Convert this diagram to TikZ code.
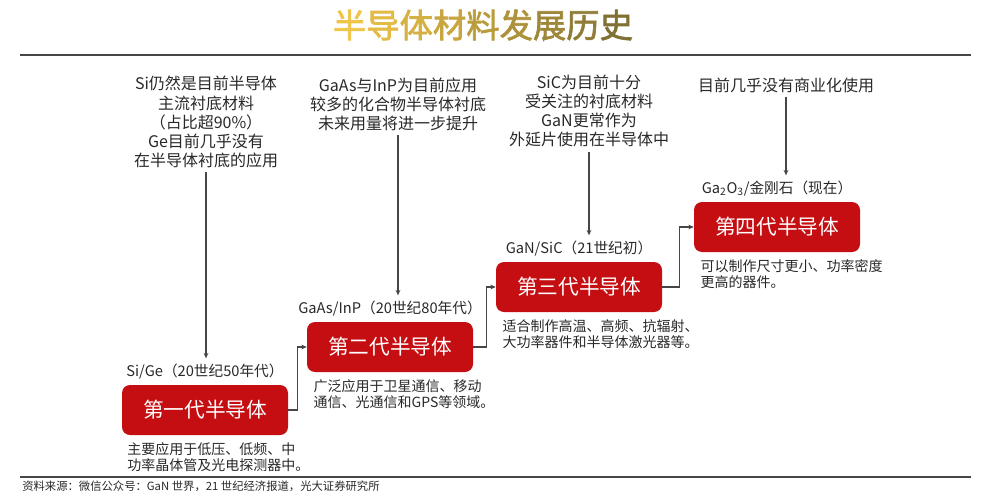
\documentclass[tikz,border=0pt]{standalone}
\usepackage{fontspec}
\setmainfont{Noto Sans CJK SC}
\newfontfamily\titlefont[FakeBold=2]{Noto Sans CJK SC}
\usepackage{xcolor}
\usetikzlibrary{arrows.meta,positioning}
\definecolor{genRed}{RGB}{196,14,18}
\definecolor{lineGray}{RGB}{70,70,70}
\definecolor{textGray}{RGB}{40,40,40}
\definecolor{titleLight}{RGB}{240,196,70}
\definecolor{titleDark}{RGB}{128,112,52}
\tikzset{
  gen/.style={fill=genRed, rounded corners=6pt, text=white, minimum width=124.5pt, minimum height=37.5pt, font=\fontsize{15.5}{18}\selectfont},
  era/.style={font=\fontsize{11}{13}\selectfont, inner sep=1pt, text=textGray},
  desc/.style={align=left, font=\fontsize{10.5}{12}\selectfont, inner sep=0pt, text=textGray},
  note/.style={align=center, font=\fontsize{12}{14.3}\selectfont, text=textGray},
  arrow/.style={-{Stealth[length=4pt,width=3.5pt]}, line width=0.8pt, draw=lineGray},
  rule/.style={line width=1.5pt, draw=lineGray}
}

\begin{document}
\begin{tikzpicture}[x=0.75pt,y=-0.75pt]
  \useasboundingbox (0,0) rectangle (1004,500);

  % Title and rules
  \node[font=\titlefont\fontsize{25}{28}\selectfont] (title) at (483,25) {%
    \textcolor{titleLight}{半}\textcolor{titleDark!12!titleLight}{导}\textcolor{titleDark!24!titleLight}{体}%
    \textcolor{titleDark!36!titleLight}{材}\textcolor{titleDark!48!titleLight}{料}\textcolor{titleDark!60!titleLight}{发}%
    \textcolor{titleDark!72!titleLight}{展}\textcolor{titleDark!86!titleLight}{历}\textcolor{titleDark}{史}};
  \coordinate (topL) at (20,55);
  \coordinate (topR) at (971,55);
  \coordinate (botL) at (20,477);
  \coordinate (botR) at (971,477);
  \draw[rule] (topL) -- (topR);
  \draw[rule] (botL) -- (botR);
  \node[anchor=west, font=\fontsize{8.5}{10}\selectfont, inner sep=0pt, text=textGray] (source) at (22,486) {资料来源：微信公众号：GaN 世界，21 世纪经济报道，光大证券研究所};

  % Generations
  \node[gen] (gen1) at (205,410) {第一代半导体};
  \node[gen] (gen2) at (390,347) {第二代半导体};
  \node[gen] (gen3) at (579,287) {第三代半导体};
  \node[gen] (gen4) at (777,227) {第四代半导体};

  % Era labels
  \node[era, above=3pt of gen1] (era1) {Si/Ge（20世纪50年代）};
  \node[era, above=3pt of gen2] (era2) {GaAs/InP（20世纪80年代）};
  \node[era, above=3pt of gen3] (era3) {GaN/SiC（21世纪初）};
  \node[era, above=3pt of gen4] (era4) {Ga\textsubscript{2}O\textsubscript{3}/金刚石（现在）};

  % Descriptions
  \node[desc, below right=5pt and 4pt of gen1.south west] (desc1) {主要应用于低压、低频、中\\功率晶体管及光电探测器中。};
  \node[desc, below right=5pt and 5pt of gen2.south west] (desc2) {广泛应用于卫星通信、移动\\通信、光通信和GPS等领域。};
  \node[desc, below right=5pt and 5pt of gen3.south west] (desc3) {适合制作高温、高频、抗辐射、\\大功率器件和半导体激光器等。};
  \node[desc, below right=5pt and 5pt of gen4.south west] (desc4) {可以制作尺寸更小、功率密度\\更高的器件。};

  % Notes on top
  \node[note] (note1) at (206,122) {Si仍然是目前半导体\\主流衬底材料\\（占比超90\%）\\Ge目前几乎没有\\在半导体衬底的应用};
  \node[note] (note2) at (398,104) {GaAs与InP为目前应用\\较多的化合物半导体衬底\\未来用量将进一步提升};
  \node[note] (note3) at (589,111) {SiC为目前十分\\受关注的衬底材料\\GaN更常作为\\外延片使用在半导体中};
  \node[note] (note4) at (786,85) {目前几乎没有商业化使用};

  % Arrows
  \draw[arrow, shorten >=3pt] (note1.south) -- (note1.south |- era1.north);
  \draw[arrow, shorten >=3pt] (note2.south) -- (note2.south |- era2.north);
  \draw[arrow, shorten >=3pt] (note3.south) -- (note3.south |- era3.north);
  \draw[arrow, shorten >=3pt] (note4.south) -- (note4.south |- era4.north);
  \draw[arrow] (gen1.east) -- ++(9,0) |- (gen2.west);
  \draw[arrow] (gen2.east) -- ++(13,0) |- (gen3.west);
  \draw[arrow] (gen3.east) -- ++(17,0) |- (gen4.west);
\end{tikzpicture}
\end{document}
